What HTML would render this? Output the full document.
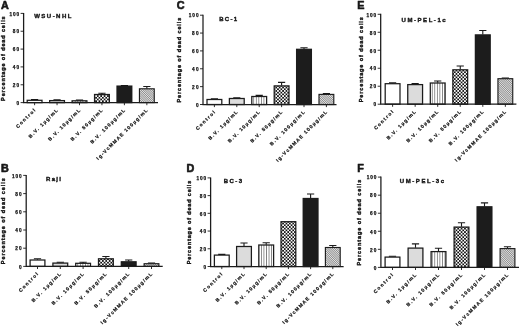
<!DOCTYPE html>
<html><head><meta charset="utf-8"><title>Figure</title>
<style>
html,body{margin:0;padding:0;background:#fff;}
body{width:520px;height:327px;overflow:hidden;font-family:"Liberation Sans",sans-serif;}
svg{display:block;position:absolute;left:0;top:0;}
text{font-family:"Liberation Sans",sans-serif;font-weight:bold;fill:#151515;stroke:#151515;stroke-width:0.3px;stroke-linejoin:round;}
.pl{font-size:10.8px;stroke-width:0.6px;}
.tt{font-size:6.0px;stroke-width:0.38px;}
.tk{font-size:4.7px;stroke-width:0.25px;}
.xl{font-size:4.8px;stroke-width:0.22px;}
.yl{font-size:5.5px;stroke-width:0.4px;}
</style></head><body>
<svg width="520" height="327" viewBox="0 0 520 327">
<defs>
<filter id="bl" x="0" y="0" width="520" height="327" filterUnits="userSpaceOnUse"><feGaussianBlur stdDeviation="0.35"/></filter>
<pattern id="vs" width="2.55" height="4" patternUnits="userSpaceOnUse"><rect width="2.55" height="4" fill="#fff"/><rect x="0.9" y="0" width="0.75" height="4" fill="#6a6a6a"/></pattern>
<pattern id="ck" width="3.4" height="3.4" patternUnits="userSpaceOnUse"><rect width="3.4" height="3.4" fill="#0c0c0c"/><rect x="0" y="0" width="1.75" height="1.75" fill="#fff"/><rect x="1.7" y="1.7" width="1.75" height="1.75" fill="#fff"/></pattern>
<pattern id="fd" width="1.55" height="1.55" patternUnits="userSpaceOnUse" patternTransform="rotate(-45)"><rect width="1.55" height="1.55" fill="#e4e4e4"/><rect x="0" y="0" width="0.7" height="1.55" fill="#808080"/></pattern>
</defs>
<rect width="520" height="327" fill="#fff"/>
<g filter="url(#bl)">

<g>
<text class="pl" x="1.0" y="8.6">A</text>
<text class="tt" x="34.2" y="18.3" textLength="37.2" lengthAdjust="spacing">WSU-NHL</text>
<text class="yl" text-anchor="middle" textLength="84.5" lengthAdjust="spacing" transform="translate(5.20,58.65) rotate(-90)">Percentage of dead cells</text>
<path d="M34.60 100.00V99.60M31.00 99.60H38.20" stroke="#1a1a1a" stroke-width="1.1" fill="none"/>
<rect x="27.20" y="100.30" width="14.80" height="2.30" fill="#fff" stroke="#1a1a1a" stroke-width="1.25"/>
<path d="M34.60 102.60V105.20" stroke="#1a1a1a" stroke-width="0.9"/>
<text class="xl" text-anchor="end" textLength="25.0" lengthAdjust="spacing" transform="translate(35.60,110.80) rotate(-45)">Control</text>
<path d="M57.05 100.30V99.90M53.45 99.90H60.65" stroke="#1a1a1a" stroke-width="1.1" fill="none"/>
<rect x="49.65" y="100.60" width="14.80" height="2.00" fill="#dcdcdc" stroke="#1a1a1a" stroke-width="1.25"/>
<path d="M57.05 102.60V105.20" stroke="#1a1a1a" stroke-width="0.9"/>
<text class="xl" text-anchor="end" textLength="39.0" lengthAdjust="spacing" transform="translate(58.05,110.80) rotate(-45)">B.V. 1µg/mL</text>
<path d="M79.50 100.50V100.10M75.90 100.10H83.10" stroke="#1a1a1a" stroke-width="1.1" fill="none"/>
<rect x="72.10" y="100.80" width="14.80" height="1.80" fill="url(#vs)" stroke="#1a1a1a" stroke-width="1.25"/>
<path d="M79.50 102.60V105.20" stroke="#1a1a1a" stroke-width="0.9"/>
<text class="xl" text-anchor="end" textLength="43.0" lengthAdjust="spacing" transform="translate(80.50,110.80) rotate(-45)">B.V. 10µg/mL</text>
<path d="M101.95 94.20V93.20M98.35 93.20H105.55" stroke="#1a1a1a" stroke-width="1.1" fill="none"/>
<rect x="94.55" y="94.50" width="14.80" height="8.10" fill="url(#ck)" stroke="#1a1a1a" stroke-width="1.25"/>
<path d="M101.95 102.60V105.20" stroke="#1a1a1a" stroke-width="0.9"/>
<text class="xl" text-anchor="end" textLength="43.0" lengthAdjust="spacing" transform="translate(102.95,110.80) rotate(-45)">B.V. 50µg/mL</text>
<path d="M124.40 85.80V85.50M120.80 85.50H128.00" stroke="#1a1a1a" stroke-width="1.1" fill="none"/>
<rect x="117.00" y="86.10" width="14.80" height="16.50" fill="#1c1c1c" stroke="#1a1a1a" stroke-width="1.25"/>
<path d="M124.40 102.60V105.20" stroke="#1a1a1a" stroke-width="0.9"/>
<text class="xl" text-anchor="end" textLength="47.0" lengthAdjust="spacing" transform="translate(125.40,110.80) rotate(-45)">B.V. 100µg/mL</text>
<path d="M146.85 88.50V86.50M143.25 86.50H150.45" stroke="#1a1a1a" stroke-width="1.1" fill="none"/>
<rect x="139.45" y="88.80" width="14.80" height="13.80" fill="url(#fd)" stroke="#1a1a1a" stroke-width="1.12"/>
<path d="M146.85 102.60V105.20" stroke="#1a1a1a" stroke-width="0.9"/>
<text class="xl" text-anchor="end" textLength="70.0" lengthAdjust="spacing" transform="translate(147.85,110.80) rotate(-45)">Ig-VcMMAE 100µg/mL</text>
<path d="M23.60 12.90V103.10M23.10 102.60H158.00" stroke="#1a1a1a" stroke-width="1.25" fill="none"/>
<path d="M20.60 102.60H23.60" stroke="#1a1a1a" stroke-width="0.9"/>
<text class="tk" text-anchor="end" x="19.10" y="104.85">0</text>
<path d="M20.60 84.76H23.60" stroke="#1a1a1a" stroke-width="0.9"/>
<text class="tk" text-anchor="end" x="19.10" y="87.01" textLength="6.4" lengthAdjust="spacing">20</text>
<path d="M20.60 66.92H23.60" stroke="#1a1a1a" stroke-width="0.9"/>
<text class="tk" text-anchor="end" x="19.10" y="69.17" textLength="6.4" lengthAdjust="spacing">40</text>
<path d="M20.60 49.08H23.60" stroke="#1a1a1a" stroke-width="0.9"/>
<text class="tk" text-anchor="end" x="19.10" y="51.33" textLength="6.4" lengthAdjust="spacing">60</text>
<path d="M20.60 31.24H23.60" stroke="#1a1a1a" stroke-width="0.9"/>
<text class="tk" text-anchor="end" x="19.10" y="33.49" textLength="6.4" lengthAdjust="spacing">80</text>
<path d="M20.60 13.40H23.60" stroke="#1a1a1a" stroke-width="0.9"/>
<text class="tk" text-anchor="end" x="19.10" y="15.65" textLength="9.7" lengthAdjust="spacing">100</text>
</g>
<g>
<text class="pl" x="1.0" y="171.7">B</text>
<text class="tt" x="46" y="181.0" textLength="15" lengthAdjust="spacing">Raji</text>
<text class="yl" text-anchor="middle" textLength="86.0" lengthAdjust="spacing" transform="translate(5.20,221.20) rotate(-90)">Percentage of dead cells</text>
<path d="M37.50 259.70V258.80M33.90 258.80H41.10" stroke="#1a1a1a" stroke-width="1.1" fill="none"/>
<rect x="30.10" y="260.00" width="14.80" height="6.40" fill="#fff" stroke="#1a1a1a" stroke-width="1.25"/>
<path d="M37.50 266.40V269.00" stroke="#1a1a1a" stroke-width="0.9"/>
<text class="xl" text-anchor="end" textLength="25.2" lengthAdjust="spacing" transform="translate(38.50,274.60) rotate(-45)">Control</text>
<path d="M60.30 262.80V262.20M56.70 262.20H63.90" stroke="#1a1a1a" stroke-width="1.1" fill="none"/>
<rect x="52.90" y="263.10" width="14.80" height="3.30" fill="#dcdcdc" stroke="#1a1a1a" stroke-width="1.25"/>
<path d="M60.30 266.40V269.00" stroke="#1a1a1a" stroke-width="0.9"/>
<text class="xl" text-anchor="end" textLength="39.4" lengthAdjust="spacing" transform="translate(61.30,274.60) rotate(-45)">B.V. 1µg/mL</text>
<path d="M83.10 263.00V262.30M79.50 262.30H86.70" stroke="#1a1a1a" stroke-width="1.1" fill="none"/>
<rect x="75.70" y="263.30" width="14.80" height="3.10" fill="url(#vs)" stroke="#1a1a1a" stroke-width="1.25"/>
<path d="M83.10 266.40V269.00" stroke="#1a1a1a" stroke-width="0.9"/>
<text class="xl" text-anchor="end" textLength="43.4" lengthAdjust="spacing" transform="translate(84.10,274.60) rotate(-45)">B.V. 10µg/mL</text>
<path d="M105.90 258.50V256.50M102.30 256.50H109.50" stroke="#1a1a1a" stroke-width="1.1" fill="none"/>
<rect x="98.50" y="258.80" width="14.80" height="7.60" fill="url(#ck)" stroke="#1a1a1a" stroke-width="1.25"/>
<path d="M105.90 266.40V269.00" stroke="#1a1a1a" stroke-width="0.9"/>
<text class="xl" text-anchor="end" textLength="43.4" lengthAdjust="spacing" transform="translate(106.90,274.60) rotate(-45)">B.V. 50µg/mL</text>
<path d="M128.70 261.50V260.00M125.10 260.00H132.30" stroke="#1a1a1a" stroke-width="1.1" fill="none"/>
<rect x="121.30" y="261.80" width="14.80" height="4.60" fill="#1c1c1c" stroke="#1a1a1a" stroke-width="1.25"/>
<path d="M128.70 266.40V269.00" stroke="#1a1a1a" stroke-width="0.9"/>
<text class="xl" text-anchor="end" textLength="47.5" lengthAdjust="spacing" transform="translate(129.70,274.60) rotate(-45)">B.V. 100µg/mL</text>
<path d="M151.50 263.40V263.00M147.90 263.00H155.10" stroke="#1a1a1a" stroke-width="1.1" fill="none"/>
<rect x="144.10" y="263.70" width="14.80" height="2.70" fill="url(#fd)" stroke="#1a1a1a" stroke-width="1.12"/>
<path d="M151.50 266.40V269.00" stroke="#1a1a1a" stroke-width="0.9"/>
<text class="xl" text-anchor="end" textLength="70.7" lengthAdjust="spacing" transform="translate(152.50,274.60) rotate(-45)">Ig-VcMMAE 100µg/mL</text>
<path d="M26.20 174.90V266.90M25.70 266.40H162.70" stroke="#1a1a1a" stroke-width="1.25" fill="none"/>
<path d="M23.20 266.40H26.20" stroke="#1a1a1a" stroke-width="0.9"/>
<text class="tk" text-anchor="end" x="21.70" y="268.65">0</text>
<path d="M23.20 248.20H26.20" stroke="#1a1a1a" stroke-width="0.9"/>
<text class="tk" text-anchor="end" x="21.70" y="250.45" textLength="6.4" lengthAdjust="spacing">20</text>
<path d="M23.20 230.00H26.20" stroke="#1a1a1a" stroke-width="0.9"/>
<text class="tk" text-anchor="end" x="21.70" y="232.25" textLength="6.4" lengthAdjust="spacing">40</text>
<path d="M23.20 211.80H26.20" stroke="#1a1a1a" stroke-width="0.9"/>
<text class="tk" text-anchor="end" x="21.70" y="214.05" textLength="6.4" lengthAdjust="spacing">60</text>
<path d="M23.20 193.60H26.20" stroke="#1a1a1a" stroke-width="0.9"/>
<text class="tk" text-anchor="end" x="21.70" y="195.85" textLength="6.4" lengthAdjust="spacing">80</text>
<path d="M23.20 175.40H26.20" stroke="#1a1a1a" stroke-width="0.9"/>
<text class="tk" text-anchor="end" x="21.70" y="177.65" textLength="9.7" lengthAdjust="spacing">100</text>
</g>
<g>
<text class="pl" x="176.7" y="8.9">C</text>
<text class="tt" x="219.2" y="20.8" textLength="18" lengthAdjust="spacing">BC-1</text>
<text class="yl" text-anchor="middle" textLength="84.7" lengthAdjust="spacing" transform="translate(181.30,60.15) rotate(-90)">Percentage of dead cells</text>
<path d="M214.40 99.20V98.80M210.80 98.80H218.00" stroke="#1a1a1a" stroke-width="1.1" fill="none"/>
<rect x="207.00" y="99.50" width="14.80" height="5.00" fill="#fff" stroke="#1a1a1a" stroke-width="1.25"/>
<path d="M214.40 104.50V107.10" stroke="#1a1a1a" stroke-width="0.9"/>
<text class="xl" text-anchor="end" textLength="25.0" lengthAdjust="spacing" transform="translate(215.40,112.70) rotate(-45)">Control</text>
<path d="M236.80 98.20V97.80M233.20 97.80H240.40" stroke="#1a1a1a" stroke-width="1.1" fill="none"/>
<rect x="229.40" y="98.50" width="14.80" height="6.00" fill="#dcdcdc" stroke="#1a1a1a" stroke-width="1.25"/>
<path d="M236.80 104.50V107.10" stroke="#1a1a1a" stroke-width="0.9"/>
<text class="xl" text-anchor="end" textLength="39.0" lengthAdjust="spacing" transform="translate(237.80,112.70) rotate(-45)">B.V. 1µg/mL</text>
<path d="M259.20 96.20V95.40M255.60 95.40H262.80" stroke="#1a1a1a" stroke-width="1.1" fill="none"/>
<rect x="251.80" y="96.50" width="14.80" height="8.00" fill="url(#vs)" stroke="#1a1a1a" stroke-width="1.25"/>
<path d="M259.20 104.50V107.10" stroke="#1a1a1a" stroke-width="0.9"/>
<text class="xl" text-anchor="end" textLength="43.0" lengthAdjust="spacing" transform="translate(260.20,112.70) rotate(-45)">B.V. 10µg/mL</text>
<path d="M281.60 85.60V82.40M278.00 82.40H285.20" stroke="#1a1a1a" stroke-width="1.1" fill="none"/>
<rect x="274.20" y="85.90" width="14.80" height="18.60" fill="url(#ck)" stroke="#1a1a1a" stroke-width="1.25"/>
<path d="M281.60 104.50V107.10" stroke="#1a1a1a" stroke-width="0.9"/>
<text class="xl" text-anchor="end" textLength="43.0" lengthAdjust="spacing" transform="translate(282.60,112.70) rotate(-45)">B.V. 50µg/mL</text>
<path d="M304.00 49.00V47.70M300.40 47.70H307.60" stroke="#1a1a1a" stroke-width="1.1" fill="none"/>
<rect x="296.60" y="49.30" width="14.80" height="55.20" fill="#1c1c1c" stroke="#1a1a1a" stroke-width="1.25"/>
<path d="M304.00 104.50V107.10" stroke="#1a1a1a" stroke-width="0.9"/>
<text class="xl" text-anchor="end" textLength="47.0" lengthAdjust="spacing" transform="translate(305.00,112.70) rotate(-45)">B.V. 100µg/mL</text>
<path d="M326.40 94.10V93.60M322.80 93.60H330.00" stroke="#1a1a1a" stroke-width="1.1" fill="none"/>
<rect x="319.00" y="94.40" width="14.80" height="10.10" fill="url(#fd)" stroke="#1a1a1a" stroke-width="1.12"/>
<path d="M326.40 104.50V107.10" stroke="#1a1a1a" stroke-width="0.9"/>
<text class="xl" text-anchor="end" textLength="70.0" lengthAdjust="spacing" transform="translate(327.40,112.70) rotate(-45)">Ig-VcMMAE 100µg/mL</text>
<path d="M203.00 14.70V105.00M202.50 104.50H336.50" stroke="#1a1a1a" stroke-width="1.25" fill="none"/>
<path d="M200.00 104.50H203.00" stroke="#1a1a1a" stroke-width="0.9"/>
<text class="tk" text-anchor="end" x="198.50" y="106.75">0</text>
<path d="M200.00 86.64H203.00" stroke="#1a1a1a" stroke-width="0.9"/>
<text class="tk" text-anchor="end" x="198.50" y="88.89" textLength="6.4" lengthAdjust="spacing">20</text>
<path d="M200.00 68.78H203.00" stroke="#1a1a1a" stroke-width="0.9"/>
<text class="tk" text-anchor="end" x="198.50" y="71.03" textLength="6.4" lengthAdjust="spacing">40</text>
<path d="M200.00 50.92H203.00" stroke="#1a1a1a" stroke-width="0.9"/>
<text class="tk" text-anchor="end" x="198.50" y="53.17" textLength="6.4" lengthAdjust="spacing">60</text>
<path d="M200.00 33.06H203.00" stroke="#1a1a1a" stroke-width="0.9"/>
<text class="tk" text-anchor="end" x="198.50" y="35.31" textLength="6.4" lengthAdjust="spacing">80</text>
<path d="M200.00 15.20H203.00" stroke="#1a1a1a" stroke-width="0.9"/>
<text class="tk" text-anchor="end" x="198.50" y="17.45" textLength="9.7" lengthAdjust="spacing">100</text>
</g>
<g>
<text class="pl" x="186.4" y="172.3">D</text>
<text class="tt" x="223.8" y="183.4" textLength="18.2" lengthAdjust="spacing">BC-3</text>
<text class="yl" text-anchor="middle" textLength="83.6" lengthAdjust="spacing" transform="translate(191.10,222.50) rotate(-90)">Percentage of dead cells</text>
<path d="M221.80 254.80V254.40M218.20 254.40H225.40" stroke="#1a1a1a" stroke-width="1.1" fill="none"/>
<rect x="214.40" y="255.10" width="14.80" height="11.40" fill="#fff" stroke="#1a1a1a" stroke-width="1.25"/>
<path d="M221.80 266.50V269.10" stroke="#1a1a1a" stroke-width="0.9"/>
<text class="xl" text-anchor="end" textLength="25.0" lengthAdjust="spacing" transform="translate(222.80,274.70) rotate(-45)">Control</text>
<path d="M244.00 246.20V243.00M240.40 243.00H247.60" stroke="#1a1a1a" stroke-width="1.1" fill="none"/>
<rect x="236.60" y="246.50" width="14.80" height="20.00" fill="#dcdcdc" stroke="#1a1a1a" stroke-width="1.25"/>
<path d="M244.00 266.50V269.10" stroke="#1a1a1a" stroke-width="0.9"/>
<text class="xl" text-anchor="end" textLength="39.0" lengthAdjust="spacing" transform="translate(245.00,274.70) rotate(-45)">B.V. 1µg/mL</text>
<path d="M266.20 244.70V242.70M262.60 242.70H269.80" stroke="#1a1a1a" stroke-width="1.1" fill="none"/>
<rect x="258.80" y="245.00" width="14.80" height="21.50" fill="url(#vs)" stroke="#1a1a1a" stroke-width="1.25"/>
<path d="M266.20 266.50V269.10" stroke="#1a1a1a" stroke-width="0.9"/>
<text class="xl" text-anchor="end" textLength="43.0" lengthAdjust="spacing" transform="translate(267.20,274.70) rotate(-45)">B.V. 10µg/mL</text>
<rect x="281.00" y="221.70" width="14.80" height="44.80" fill="url(#ck)" stroke="#1a1a1a" stroke-width="1.25"/>
<path d="M288.40 266.50V269.10" stroke="#1a1a1a" stroke-width="0.9"/>
<text class="xl" text-anchor="end" textLength="43.0" lengthAdjust="spacing" transform="translate(289.40,274.70) rotate(-45)">B.V. 50µg/mL</text>
<path d="M310.60 198.20V194.00M307.00 194.00H314.20" stroke="#1a1a1a" stroke-width="1.1" fill="none"/>
<rect x="303.20" y="198.50" width="14.80" height="68.00" fill="#1c1c1c" stroke="#1a1a1a" stroke-width="1.25"/>
<path d="M310.60 266.50V269.10" stroke="#1a1a1a" stroke-width="0.9"/>
<text class="xl" text-anchor="end" textLength="47.0" lengthAdjust="spacing" transform="translate(311.60,274.70) rotate(-45)">B.V. 100µg/mL</text>
<path d="M332.80 247.20V245.50M329.20 245.50H336.40" stroke="#1a1a1a" stroke-width="1.1" fill="none"/>
<rect x="325.40" y="247.50" width="14.80" height="19.00" fill="url(#fd)" stroke="#1a1a1a" stroke-width="1.12"/>
<path d="M332.80 266.50V269.10" stroke="#1a1a1a" stroke-width="0.9"/>
<text class="xl" text-anchor="end" textLength="70.0" lengthAdjust="spacing" transform="translate(333.80,274.70) rotate(-45)">Ig-VcMMAE 100µg/mL</text>
<path d="M210.60 177.40V267.00M210.10 266.50H343.60" stroke="#1a1a1a" stroke-width="1.25" fill="none"/>
<path d="M207.60 266.50H210.60" stroke="#1a1a1a" stroke-width="0.9"/>
<text class="tk" text-anchor="end" x="206.10" y="268.75">0</text>
<path d="M207.60 248.78H210.60" stroke="#1a1a1a" stroke-width="0.9"/>
<text class="tk" text-anchor="end" x="206.10" y="251.03" textLength="6.4" lengthAdjust="spacing">20</text>
<path d="M207.60 231.06H210.60" stroke="#1a1a1a" stroke-width="0.9"/>
<text class="tk" text-anchor="end" x="206.10" y="233.31" textLength="6.4" lengthAdjust="spacing">40</text>
<path d="M207.60 213.34H210.60" stroke="#1a1a1a" stroke-width="0.9"/>
<text class="tk" text-anchor="end" x="206.10" y="215.59" textLength="6.4" lengthAdjust="spacing">60</text>
<path d="M207.60 195.62H210.60" stroke="#1a1a1a" stroke-width="0.9"/>
<text class="tk" text-anchor="end" x="206.10" y="197.87" textLength="6.4" lengthAdjust="spacing">80</text>
<path d="M207.60 177.90H210.60" stroke="#1a1a1a" stroke-width="0.9"/>
<text class="tk" text-anchor="end" x="206.10" y="180.15" textLength="9.7" lengthAdjust="spacing">100</text>
</g>
<g>
<text class="pl" x="357.3" y="9.0">E</text>
<text class="tt" x="401.6" y="22.0" textLength="44" lengthAdjust="spacing">UM-PEL-1c</text>
<text class="yl" text-anchor="middle" textLength="85.1" lengthAdjust="spacing" transform="translate(362.80,59.75) rotate(-90)">Percentage of dead cells</text>
<path d="M392.60 83.40V82.80M389.00 82.80H396.20" stroke="#1a1a1a" stroke-width="1.1" fill="none"/>
<rect x="385.20" y="83.70" width="14.80" height="20.50" fill="#fff" stroke="#1a1a1a" stroke-width="1.25"/>
<path d="M392.60 104.20V106.80" stroke="#1a1a1a" stroke-width="0.9"/>
<text class="xl" text-anchor="end" textLength="25.0" lengthAdjust="spacing" transform="translate(393.60,112.40) rotate(-45)">Control</text>
<path d="M415.15 84.30V83.50M411.55 83.50H418.75" stroke="#1a1a1a" stroke-width="1.1" fill="none"/>
<rect x="407.75" y="84.60" width="14.80" height="19.60" fill="#dcdcdc" stroke="#1a1a1a" stroke-width="1.25"/>
<path d="M415.15 104.20V106.80" stroke="#1a1a1a" stroke-width="0.9"/>
<text class="xl" text-anchor="end" textLength="39.0" lengthAdjust="spacing" transform="translate(416.15,112.40) rotate(-45)">B.V. 1µg/mL</text>
<path d="M437.70 82.70V81.00M434.10 81.00H441.30" stroke="#1a1a1a" stroke-width="1.1" fill="none"/>
<rect x="430.30" y="83.00" width="14.80" height="21.20" fill="url(#vs)" stroke="#1a1a1a" stroke-width="1.25"/>
<path d="M437.70 104.20V106.80" stroke="#1a1a1a" stroke-width="0.9"/>
<text class="xl" text-anchor="end" textLength="43.0" lengthAdjust="spacing" transform="translate(438.70,112.40) rotate(-45)">B.V. 10µg/mL</text>
<path d="M460.25 69.50V66.00M456.65 66.00H463.85" stroke="#1a1a1a" stroke-width="1.1" fill="none"/>
<rect x="452.85" y="69.80" width="14.80" height="34.40" fill="url(#ck)" stroke="#1a1a1a" stroke-width="1.25"/>
<path d="M460.25 104.20V106.80" stroke="#1a1a1a" stroke-width="0.9"/>
<text class="xl" text-anchor="end" textLength="43.0" lengthAdjust="spacing" transform="translate(461.25,112.40) rotate(-45)">B.V. 50µg/mL</text>
<path d="M482.80 34.60V30.50M479.20 30.50H486.40" stroke="#1a1a1a" stroke-width="1.1" fill="none"/>
<rect x="475.40" y="34.90" width="14.80" height="69.30" fill="#1c1c1c" stroke="#1a1a1a" stroke-width="1.25"/>
<path d="M482.80 104.20V106.80" stroke="#1a1a1a" stroke-width="0.9"/>
<text class="xl" text-anchor="end" textLength="47.0" lengthAdjust="spacing" transform="translate(483.80,112.40) rotate(-45)">B.V. 100µg/mL</text>
<path d="M505.35 78.40V78.00M501.75 78.00H508.95" stroke="#1a1a1a" stroke-width="1.1" fill="none"/>
<rect x="497.95" y="78.70" width="14.80" height="25.50" fill="url(#fd)" stroke="#1a1a1a" stroke-width="1.12"/>
<path d="M505.35 104.20V106.80" stroke="#1a1a1a" stroke-width="0.9"/>
<text class="xl" text-anchor="end" textLength="70.0" lengthAdjust="spacing" transform="translate(506.35,112.40) rotate(-45)">Ig-VcMMAE 100µg/mL</text>
<path d="M380.70 13.80V104.70M380.20 104.20H516.40" stroke="#1a1a1a" stroke-width="1.25" fill="none"/>
<path d="M377.70 104.20H380.70" stroke="#1a1a1a" stroke-width="0.9"/>
<text class="tk" text-anchor="end" x="376.20" y="106.45">0</text>
<path d="M377.70 86.22H380.70" stroke="#1a1a1a" stroke-width="0.9"/>
<text class="tk" text-anchor="end" x="376.20" y="88.47" textLength="6.4" lengthAdjust="spacing">20</text>
<path d="M377.70 68.24H380.70" stroke="#1a1a1a" stroke-width="0.9"/>
<text class="tk" text-anchor="end" x="376.20" y="70.49" textLength="6.4" lengthAdjust="spacing">40</text>
<path d="M377.70 50.26H380.70" stroke="#1a1a1a" stroke-width="0.9"/>
<text class="tk" text-anchor="end" x="376.20" y="52.51" textLength="6.4" lengthAdjust="spacing">60</text>
<path d="M377.70 32.28H380.70" stroke="#1a1a1a" stroke-width="0.9"/>
<text class="tk" text-anchor="end" x="376.20" y="34.53" textLength="6.4" lengthAdjust="spacing">80</text>
<path d="M377.70 14.30H380.70" stroke="#1a1a1a" stroke-width="0.9"/>
<text class="tk" text-anchor="end" x="376.20" y="16.55" textLength="9.7" lengthAdjust="spacing">100</text>
</g>
<g>
<text class="pl" x="357.3" y="171.6">F</text>
<text class="tt" x="399.8" y="182.5" textLength="44.2" lengthAdjust="spacing">UM-PEL-3c</text>
<text class="yl" text-anchor="middle" textLength="85.8" lengthAdjust="spacing" transform="translate(361.30,222.70) rotate(-90)">Percentage of dead cells</text>
<path d="M392.50 256.80V256.20M388.90 256.20H396.10" stroke="#1a1a1a" stroke-width="1.1" fill="none"/>
<rect x="385.10" y="257.10" width="14.80" height="10.30" fill="#fff" stroke="#1a1a1a" stroke-width="1.25"/>
<path d="M392.50 267.40V270.00" stroke="#1a1a1a" stroke-width="0.9"/>
<text class="xl" text-anchor="end" textLength="25.6" lengthAdjust="spacing" transform="translate(393.50,275.60) rotate(-45)">Control</text>
<path d="M415.50 247.80V243.90M411.90 243.90H419.10" stroke="#1a1a1a" stroke-width="1.1" fill="none"/>
<rect x="408.10" y="248.10" width="14.80" height="19.30" fill="#dcdcdc" stroke="#1a1a1a" stroke-width="1.25"/>
<path d="M415.50 267.40V270.00" stroke="#1a1a1a" stroke-width="0.9"/>
<text class="xl" text-anchor="end" textLength="40.0" lengthAdjust="spacing" transform="translate(416.50,275.60) rotate(-45)">B.V. 1µg/mL</text>
<path d="M438.50 251.30V248.30M434.90 248.30H442.10" stroke="#1a1a1a" stroke-width="1.1" fill="none"/>
<rect x="431.10" y="251.60" width="14.80" height="15.80" fill="url(#vs)" stroke="#1a1a1a" stroke-width="1.25"/>
<path d="M438.50 267.40V270.00" stroke="#1a1a1a" stroke-width="0.9"/>
<text class="xl" text-anchor="end" textLength="44.1" lengthAdjust="spacing" transform="translate(439.50,275.60) rotate(-45)">B.V. 10µg/mL</text>
<path d="M461.50 226.80V222.70M457.90 222.70H465.10" stroke="#1a1a1a" stroke-width="1.1" fill="none"/>
<rect x="454.10" y="227.10" width="14.80" height="40.30" fill="url(#ck)" stroke="#1a1a1a" stroke-width="1.25"/>
<path d="M461.50 267.40V270.00" stroke="#1a1a1a" stroke-width="0.9"/>
<text class="xl" text-anchor="end" textLength="44.1" lengthAdjust="spacing" transform="translate(462.50,275.60) rotate(-45)">B.V. 50µg/mL</text>
<path d="M484.50 206.50V202.90M480.90 202.90H488.10" stroke="#1a1a1a" stroke-width="1.1" fill="none"/>
<rect x="477.10" y="206.80" width="14.80" height="60.60" fill="#1c1c1c" stroke="#1a1a1a" stroke-width="1.25"/>
<path d="M484.50 267.40V270.00" stroke="#1a1a1a" stroke-width="0.9"/>
<text class="xl" text-anchor="end" textLength="48.2" lengthAdjust="spacing" transform="translate(485.50,275.60) rotate(-45)">B.V. 100µg/mL</text>
<path d="M507.50 248.30V246.70M503.90 246.70H511.10" stroke="#1a1a1a" stroke-width="1.1" fill="none"/>
<rect x="500.10" y="248.60" width="14.80" height="18.80" fill="url(#fd)" stroke="#1a1a1a" stroke-width="1.12"/>
<path d="M507.50 267.40V270.00" stroke="#1a1a1a" stroke-width="0.9"/>
<text class="xl" text-anchor="end" textLength="71.8" lengthAdjust="spacing" transform="translate(508.50,275.60) rotate(-45)">Ig-VcMMAE 100µg/mL</text>
<path d="M380.90 176.60V267.90M380.40 267.40H519.00" stroke="#1a1a1a" stroke-width="1.25" fill="none"/>
<path d="M377.90 267.40H380.90" stroke="#1a1a1a" stroke-width="0.9"/>
<text class="tk" text-anchor="end" x="376.40" y="269.65">0</text>
<path d="M377.90 249.34H380.90" stroke="#1a1a1a" stroke-width="0.9"/>
<text class="tk" text-anchor="end" x="376.40" y="251.59" textLength="6.4" lengthAdjust="spacing">20</text>
<path d="M377.90 231.28H380.90" stroke="#1a1a1a" stroke-width="0.9"/>
<text class="tk" text-anchor="end" x="376.40" y="233.53" textLength="6.4" lengthAdjust="spacing">40</text>
<path d="M377.90 213.22H380.90" stroke="#1a1a1a" stroke-width="0.9"/>
<text class="tk" text-anchor="end" x="376.40" y="215.47" textLength="6.4" lengthAdjust="spacing">60</text>
<path d="M377.90 195.16H380.90" stroke="#1a1a1a" stroke-width="0.9"/>
<text class="tk" text-anchor="end" x="376.40" y="197.41" textLength="6.4" lengthAdjust="spacing">80</text>
<path d="M377.90 177.10H380.90" stroke="#1a1a1a" stroke-width="0.9"/>
<text class="tk" text-anchor="end" x="376.40" y="179.35" textLength="9.7" lengthAdjust="spacing">100</text>
</g>
</g>
</svg>
</body></html>
